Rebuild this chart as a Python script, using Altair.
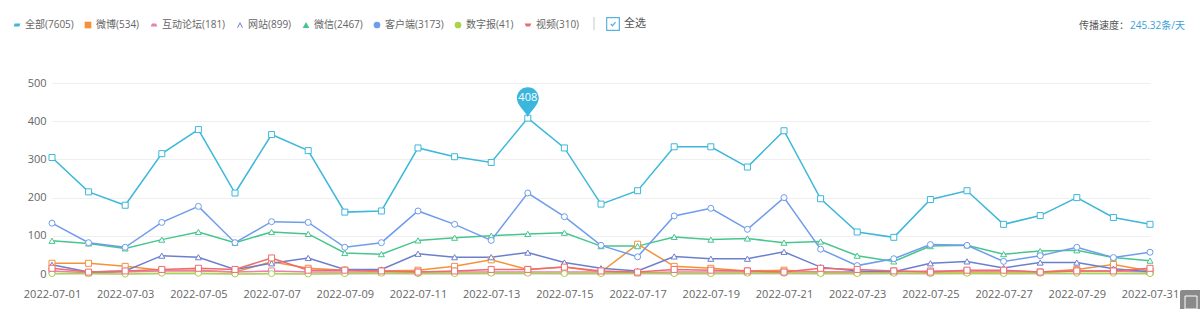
import altair as alt
import pandas as pd

dates = [f"2022-07-{d:02d}" for d in range(1, 32)]

names = ["全部", "微博", "互动论坛", "网站", "微信", "客户端", "数字报", "视频"]
totals = [7605, 534, 181, 899, 2467, 3173, 41, 310]
colors = ["#3db8da", "#f2933a", "#ea7fb0", "#6c7fcd", "#46c68e", "#6f9cec", "#a8d44e", "#ec6d6d"]
marker_shapes = ["square", "square", "square", "triangle-up", "triangle-up", "circle", "circle", "square"]
legend_shapes = [
    "M-1,0.45 L-0.7,-0.45 L1,-0.45 L0.7,0.45 Z",
    "square",
    "M-1,0.45 L-0.6,-0.45 L0.6,-0.45 L1,0.45 Z",
    "M-0.9,0.8 L0,-0.9 L0.9,0.8 L0.6,0.8 L0,-0.3 L-0.6,0.8 Z",
    "triangle-up",
    "circle",
    "circle",
    "M-1,-0.45 L1,-0.45 L0.6,0.45 L-0.6,0.45 Z",
]

all_v = [305, 215, 180, 315, 378, 212, 365, 323, 162, 165, 330, 307, 292, 408, 330,
         183, 218, 333, 333, 280, 375, 197, 110, 96, 195, 218, 130, 153, 200, 148, 130]
weibo_v = [28, 28, 20, 10, 10, 5, 32, 15, 10, 8, 10, 20, 37, 12, 18,
           5, 78, 20, 15, 8, 10, 5, 5, 8, 5, 5, 5, 5, 12, 25, 8]
forum_v = [8, 3, 5, 8, 8, 5, 8, 5, 5, 5, 5, 5, 5, 5, 5,
           5, 3, 5, 5, 5, 5, 5, 5, 5, 8, 8, 8, 5, 8, 8, 5]
web_v = [24, 5, 8, 48, 44, 12, 28, 42, 12, 12, 53, 44, 44, 56, 30,
         15, 8, 46, 40, 40, 58, 18, 8, 6, 28, 33, 16, 30, 30, 14, 6]
wechat_v = [87, 80, 67, 90, 110, 82, 110, 105, 55, 52, 88, 95, 100, 105, 108,
            73, 73, 97, 90, 93, 82, 85, 48, 33, 73, 75, 52, 60, 62, 43, 35]
client_v = [133, 82, 70, 135, 177, 82, 137, 135, 70, 82, 165, 130, 88, 212, 150,
            75, 45, 152, 172, 117, 200, 65, 22, 40, 77, 75, 33, 48, 70, 43, 57]
paper_v = [1, 1, 0, 2, 2, 0, 1, 0, 1, 2, 1, 1, 2, 2, 1,
           1, 2, 1, 1, 2, 2, 1, 1, 2, 1, 2, 1, 2, 2, 2, 1]
video_v = [15, 5, 8, 12, 15, 12, 42, 10, 10, 8, 5, 8, 12, 12, 18,
           8, 5, 12, 10, 8, 5, 15, 12, 8, 5, 10, 10, 5, 8, 8, 15]

series_values = [all_v, weibo_v, forum_v, web_v, wechat_v, client_v, paper_v, video_v]
labels = [f"{n}({t})" for n, t in zip(names, totals)]

rows = []
for lab, vals in zip(labels, series_values):
    for d, v in zip(dates, vals):
        rows.append({"date": d, "series": lab, "value": v})
df = pd.DataFrame(rows)

FONT = "Open Sans, Noto Sans CJK SC, sans-serif"

x_enc = alt.X("date:O", sort=dates, scale=alt.Scale(padding=0),
              axis=alt.Axis(values=dates[::2], labelAngle=0, ticks=False, grid=False,
                            domainColor="#e3e3e3", labelColor="#666666", labelFontSize=11,
                            labelPadding=14, title=None, labelFont=FONT))
y_enc = alt.Y("value:Q", scale=alt.Scale(domain=[0, 500]),
              axis=alt.Axis(values=[0, 100, 200, 300, 400, 500], domain=False, ticks=False,
                            gridColor="#efefef", labelColor="#666666", labelFontSize=11,
                            labelPadding=6, title=None, labelFont=FONT))

color_scale = alt.Scale(domain=labels, range=colors)

base = alt.Chart(df)

lines = base.mark_line(strokeWidth=1.5).encode(
    x=x_enc, y=y_enc,
    color=alt.Color("series:N", scale=color_scale, legend=None),
)

points = base.mark_point(filled=False, fill="white", size=36, strokeWidth=1, opacity=1).encode(
    x=x_enc, y=y_enc,
    color=alt.Color("series:N", scale=color_scale, legend=None),
    shape=alt.Shape("series:N", scale=alt.Scale(domain=labels, range=marker_shapes), legend=None),
)

legend_layer = base.mark_point(filled=True, opacity=1).encode(
    x=x_enc, y=y_enc,
    color=alt.Color("series:N", scale=color_scale,
                    legend=alt.Legend(title=None, orient="none", legendX=-40, legendY=-63,
                                      direction="horizontal", columns=8, columnPadding=9,
                                      labelFontSize=10, labelColor="#666666", labelFont=FONT,
                                      symbolSize=45, labelOffset=3, symbolStrokeWidth=0)),
    shape=alt.Shape("series:N", scale=alt.Scale(domain=labels, range=legend_shapes), legend=None),
).transform_filter("false")

max_base = base.transform_filter(f"datum.series == '{labels[0]}'").transform_joinaggregate(
    mx="max(value)").transform_filter("datum.value == datum.mx")

pin_path = "M0,1 C-0.15,0.6 -0.73,0.25 -0.73,-0.27 A0.73,0.73 0 1 1 0.73,-0.27 C0.73,0.25 0.15,0.6 0,1 Z"
pin = max_base.mark_point(shape=pin_path, size=900, filled=True, color="#3bb6dd", opacity=1,
                          yOffset=-16).encode(x=x_enc, y=y_enc)
pin_text = max_base.mark_text(color="white", fontSize=11, font=FONT, yOffset=-20,
                              baseline="middle").encode(x=x_enc, y=y_enc, text="value:Q")

# decorations in the legend row and top right
sep = alt.Chart(pd.DataFrame({"a": [0]})).mark_rule(color="#c8c8c8", strokeWidth=1).encode(
    x=alt.value(542), y=alt.value(-66), y2=alt.value(-53))
checkbox = alt.Chart(pd.DataFrame({"a": [0]})).mark_point(
    shape="square", size=160, filled=False, fill="white", color="#5ab4dc", strokeWidth=1.2,
    opacity=1).encode(x=alt.value(561), y=alt.value(-59))
check = alt.Chart(pd.DataFrame({"a": [0]})).mark_point(
    shape="M-0.55,0 L-0.12,0.42 L0.6,-0.45", size=70, filled=False, color="#5ab4dc",
    strokeWidth=1.3, opacity=1).encode(x=alt.value(561), y=alt.value(-59))
select_all = alt.Chart(pd.DataFrame({"t": ["全选"]})).mark_text(
    align="left", baseline="middle", fontSize=11, color="#555555", font=FONT).encode(
    x=alt.value(572), y=alt.value(-59), text="t:N")
speed_label = alt.Chart(pd.DataFrame({"t": ["传播速度："]})).mark_text(
    align="right", baseline="middle", fontSize=10, color="#555555", font=FONT).encode(
    x=alt.value(1077), y=alt.value(-57), text="t:N")
speed_value = alt.Chart(pd.DataFrame({"t": ["245.32条/天"]})).mark_text(
    align="left", baseline="middle", fontSize=10, color="#3a9fd8", font=FONT).encode(
    x=alt.value(1078), y=alt.value(-57), text="t:N")
corner_box = alt.Chart(pd.DataFrame({"a": [0]})).mark_rect(color="#8a8a8a", cornerRadius=2).encode(
    x=alt.value(1128), x2=alt.value(1150), y=alt.value(207), y2=alt.value(230))
corner_inner = alt.Chart(pd.DataFrame({"a": [0]})).mark_rect(
    fill="#8a8a8a", stroke="white", strokeWidth=1).encode(
    x=alt.value(1133), x2=alt.value(1145), y=alt.value(213), y2=alt.value(226))

chart = alt.layer(
    lines, points, legend_layer, pin, pin_text,
    sep, checkbox, check, select_all, speed_label, speed_value, corner_box, corner_inner,
).resolve_scale(color="independent", shape="independent").properties(
    width=1098, height=191,
    autosize=alt.AutoSizeParams(type="none"),
    padding={"left": 52, "top": 83, "right": 50, "bottom": 35},
    background="white",
).configure_view(stroke=None)

chart.save("out.html", embed_options={"renderer": "svg", "actions": False})
